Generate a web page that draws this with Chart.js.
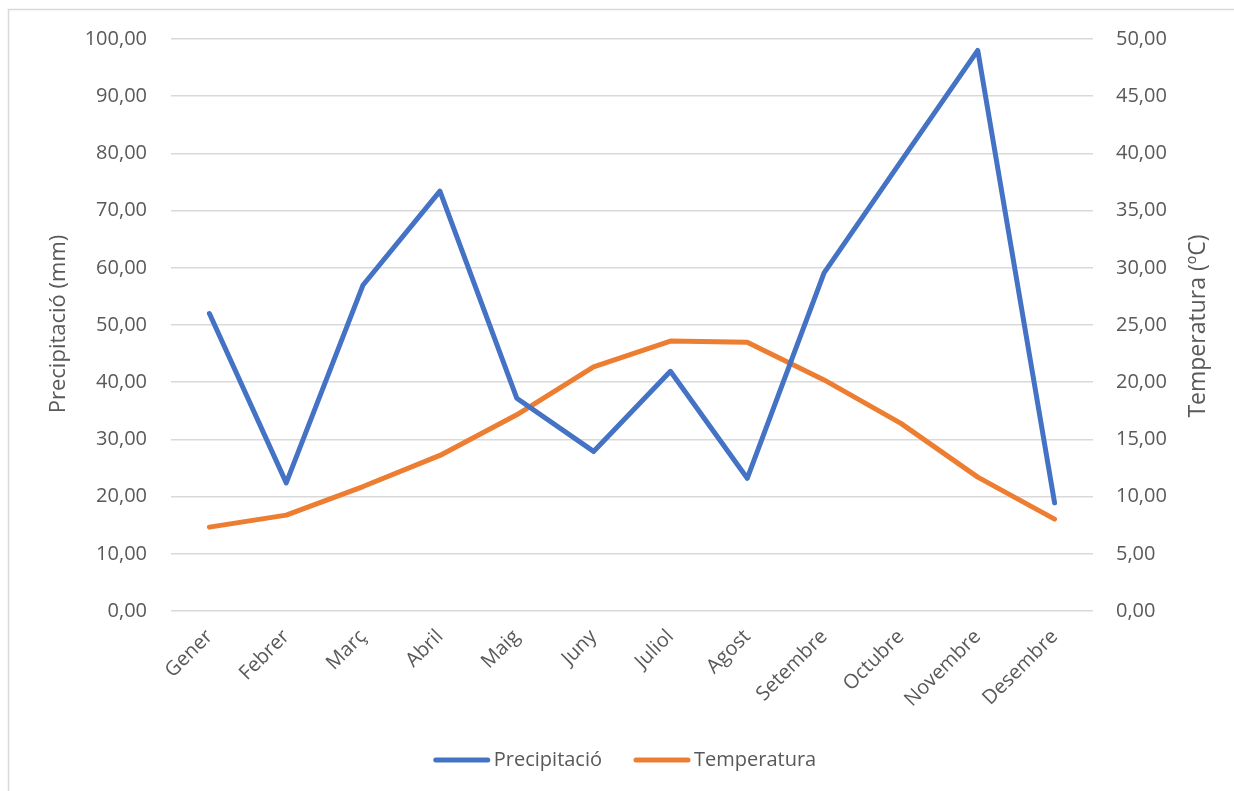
<!DOCTYPE html>
<html>
<head>
<meta charset="utf-8">
<script src="https://cdn.jsdelivr.net/npm/chart.js@4.4.1/dist/chart.umd.min.js"></script>
<style>
  html, body { margin: 0; padding: 0; background: #ffffff; }
  #wrap { position: relative; width: 1234px; height: 791px; }
</style>
</head>
<body>
<div id="wrap"><canvas id="c" width="1234" height="791"></canvas></div>
<script>
// Monthly climate data
const months = ['Gener', 'Febrer', 'Març', 'Abril', 'Maig', 'Juny', 'Juliol', 'Agost', 'Setembre', 'Octubre', 'Novembre', 'Desembre'];
const precipitation = [52.0, 22.4, 57.0, 73.4, 37.2, 27.9, 41.9, 23.2, 59.1, 78.6, 98.0, 18.9];
const temperature = [7.33, 8.38, 10.88, 13.6, 17.15, 21.35, 23.6, 23.5, 20.2, 16.4, 11.7, 8.03];
const precipTicks = { min: 0, max: 100, step: 10 };
const tempTicks = { min: 0, max: 50, step: 5 };

const FONT = '"Open Sans", "Noto Sans", sans-serif';
const TEXT = '#595959';
const GRID = '#d9d9d9';
const fmt = v => v.toFixed(2).replace('.', ',');

// Frame, rotated axis titles and legend drawn on the canvas
const decorations = {
  id: 'decorations',
  beforeDraw(chart) {
    const ctx = chart.ctx;
    ctx.save();
    ctx.fillStyle = '#ffffff';
    ctx.fillRect(0, 0, chart.width, chart.height);
    ctx.strokeStyle = '#d9d9d9';
    ctx.lineWidth = 1.5;
    ctx.strokeRect(8.5, 9.5, chart.width + 10, chart.height + 10);
    ctx.restore();
  },
  afterDraw(chart) {
    const ctx = chart.ctx;
    const area = chart.chartArea;
    const midY = (area.top + area.bottom) / 2;
    ctx.save();
    ctx.fillStyle = TEXT;
    ctx.textAlign = 'center';
    ctx.textBaseline = 'alphabetic';
    // [baseline x, centre y, font size, text]
    const titles = [
      [65, midY - 1, 22, chart.options.scales.y.title.text],
      [1205, midY + 1, 23, chart.options.scales.y1.title.text]
    ];
    titles.forEach(([x, y, size, t]) => {
      ctx.save();
      ctx.font = size + 'px ' + FONT;
      ctx.translate(x, y);
      ctx.rotate(-Math.PI / 2);
      ctx.fillText(t, 0, 0);
      ctx.restore();
    });

    // legend
    const ds = chart.data.datasets;
    const lineLen = 56, gap = 4, itemGap = 32, ly = 760;
    ctx.font = '20px ' + FONT;
    ctx.textAlign = 'left';
    ctx.textBaseline = 'middle';
    const widths = ds.map(d => lineLen + gap + ctx.measureText(d.label).width);
    const total = widths.reduce((a, b) => a + b, 0) + itemGap * (ds.length - 1);
    let x = 625 - total / 2;
    ds.forEach((d, i) => {
      ctx.strokeStyle = d.borderColor;
      ctx.lineWidth = 5;
      ctx.lineCap = 'round';
      ctx.beginPath();
      ctx.moveTo(x + 2, ly);
      ctx.lineTo(x + lineLen - 2, ly);
      ctx.stroke();
      ctx.fillStyle = TEXT;
      ctx.fillText(d.label, x + lineLen + gap, ly);
      x += widths[i] + itemGap;
    });
    ctx.restore();
  }
};

new Chart(document.getElementById('c'), {
  type: 'line',
  data: {
    labels: months,
    datasets: [
      {
        label: 'Precipitació',
        data: precipitation,
        yAxisID: 'y',
        borderColor: '#4472c4',
        backgroundColor: '#4472c4',
        borderWidth: 5,
        pointRadius: 0,
        borderCapStyle: 'round',
        borderJoinStyle: 'round',
        tension: 0
      },
      {
        label: 'Temperatura',
        data: temperature,
        yAxisID: 'y1',
        borderColor: '#ed7d31',
        backgroundColor: '#ed7d31',
        borderWidth: 5,
        pointRadius: 0,
        borderCapStyle: 'round',
        borderJoinStyle: 'round',
        tension: 0
      }
    ]
  },
  options: {
    responsive: false,
    animation: false,
    devicePixelRatio: 1,
    layout: { padding: { left: 0, right: 0, top: 39, bottom: 0 } },
    plugins: { legend: { display: false }, tooltip: { enabled: false } },
    scales: {
      x: {
        offset: true,
        grid: { display: false, drawTicks: false },
        border: { display: false },
        ticks: {
          color: TEXT,
          font: { family: FONT, size: 20 },
          minRotation: 45,
          maxRotation: 45,
          autoSkip: false,
          padding: 14
        },
        afterFit(scale) { scale.height = 180; }
      },
      y: {
        position: 'left',
        min: precipTicks.min,
        max: precipTicks.max,
        title: { display: false, text: 'Precipitació (mm)' },
        grid: { color: GRID, lineWidth: 1.5, drawTicks: false },
        border: { display: false },
        ticks: {
          stepSize: precipTicks.step,
          color: TEXT,
          font: { family: FONT, size: 20 },
          padding: 24,
          callback: v => fmt(v)
        },
        afterFit(scale) { scale.width = 171; }
      },
      y1: {
        position: 'right',
        min: tempTicks.min,
        max: tempTicks.max,
        title: { display: false, text: 'Temperatura (ºC)' },
        grid: { display: false, drawTicks: false },
        border: { display: false },
        ticks: {
          stepSize: tempTicks.step,
          color: TEXT,
          font: { family: FONT, size: 20 },
          padding: 23,
          callback: v => fmt(v)
        },
        afterFit(scale) { scale.width = 141; }
      }
    }
  },
  plugins: [decorations]
});
</script>
</body>
</html>
